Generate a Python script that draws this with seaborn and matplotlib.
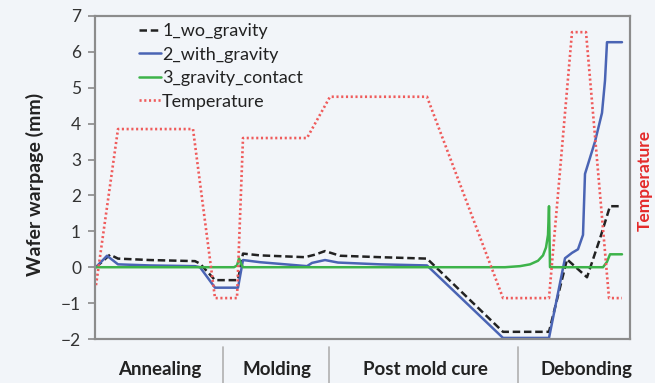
import numpy as np
import pandas as pd
import matplotlib
matplotlib.use("Agg")
import matplotlib.pyplot as plt
import matplotlib.transforms as mtransforms
import seaborn as sns

# Process time (arbitrary units) and warpage values (mm) for each simulation case
t_wo = [1, 5, 15, 23, 55, 100, 105, 120, 143, 148, 165, 210, 220, 230, 245, 285,
        332, 408, 454, 472, 492, 505, 515, 527]
warp_wo = [0, 0.1, 0.35, 0.24, 0.2, 0.17, 0.1, -0.36, -0.36, 0.38, 0.33, 0.28,
           0.35, 0.45, 0.32, 0.28, 0.24, -1.8, -1.8, 0.22, -0.28, 0.8, 1.7, 1.7]

t_with = [1, 12, 23, 55, 100, 105, 120, 143, 148, 165, 212, 217, 230, 243, 285,
          332, 408, 454, 470, 477, 483, 488, 490, 500, 507, 510, 512, 527]
warp_with = [0, 0.32, 0.08, 0.05, 0.03, 0.0, -0.57, -0.57, 0.2, 0.14, 0.03, 0.12,
             0.2, 0.13, 0.08, 0.05, -1.97, -1.97, 0.25, 0.4, 0.5, 0.9, 2.6, 3.5,
             4.3, 5.2, 6.27, 6.27]

t_contact = [1, 139, 142, 144, 146, 148, 410, 425, 435, 443, 448, 451, 453, 454,
             455, 508, 512, 515, 527]
warp_contact = [0, 0, 0.05, 0.25, 0.1, 0, 0, 0.03, 0.08, 0.18, 0.33, 0.55, 0.9,
                1.7, 0, 0, 0.15, 0.36, 0.36]

# Temperature profile, drawn on the secondary axis
t_temp = [1, 23, 98, 120, 142, 148, 212, 235, 332, 408, 454, 477, 491, 514, 527]
temperature = [-0.5, 3.85, 3.85, -0.86, -0.86, 3.6, 3.6, 4.75, 4.75, -0.86, -0.86,
               6.55, 6.55, -0.86, -0.86]

stages = ["Annealing", "Molding", "Post mold cure", "Debonding"]
stage_centers = [65, 182, 330, 492]
stage_bounds = [128, 234, 423]

series_labels = ["1_wo_gravity", "2_with_gravity", "3_gravity_contact", "Temperature"]

BG = "#f2f5f9"
sns.set_theme(style="white")
plt.rcParams["font.family"] = ["Lato", "DejaVu Sans"]

fig = plt.figure(figsize=(6.55, 3.83), dpi=100, facecolor=BG)
ax = fig.add_axes([95 / 655, 1 - 339 / 383, 535 / 655, 323 / 383])
ax.set_facecolor(BG)

sns.lineplot(x=t_wo, y=warp_wo, ax=ax, color="#222222", lw=1.8,
             estimator=None, sort=False, label=series_labels[0])
ax.lines[-1].set_dashes((3.0, 1.5))
sns.lineplot(x=t_with, y=warp_with, ax=ax, color="#4a64b4", lw=1.8,
             estimator=None, sort=False, label=series_labels[1])
sns.lineplot(x=t_contact, y=warp_contact, ax=ax, color="#3db34a", lw=1.8,
             estimator=None, sort=False, label=series_labels[2])

ax2 = ax.twinx()
sns.lineplot(x=t_temp, y=temperature, ax=ax2, color="#ef5b5b", lw=1.9,
             estimator=None, sort=False, label=series_labels[3])
ax2.lines[-1].set_dashes((0.8, 1.0))

for a in (ax, ax2):
    a.set_xlim(0, 535)
    a.set_ylim(-2, 7)

ax.set_yticks(range(-2, 8))
ax.set_xticks([])
ax.tick_params(axis="y", which="both", left=True, length=5, width=1.2,
               color="#8a8a8a", labelsize=12.5, labelcolor="#333333", pad=5)
ax2.set_yticks([])
ax2.set_ylabel("")
ax.set_ylabel("Wafer warpage (mm)", fontsize=14, fontweight="bold", color="#222222")
ax.yaxis.set_label_coords(-0.095, 0.48)

# Secondary axis title, placed at the right edge of the figure
fig.text(645 / 655, 1 - 180 / 383, "Temperature", rotation=90, ha="center",
         va="center", fontsize=12.5, fontweight="bold", color="#e42a2a")

for a in (ax, ax2):
    for s in a.spines.values():
        s.set_color("#8c8c8c")
        s.set_linewidth(1.5)

# Legend combining both axes
h1, l1 = ax.get_legend_handles_labels()
h2, l2 = ax2.get_legend_handles_labels()
if ax2.get_legend():
    ax2.get_legend().remove()
leg = ax.legend(h1 + h2, l1 + l2, loc="upper left", frameon=False,
                bbox_to_anchor=(139 / 655, 1 - 23 / 383), bbox_transform=fig.transFigure,
                borderaxespad=0, borderpad=0, handlelength=1.2, handletextpad=0.08,
                labelspacing=0.42, fontsize=13)
for txt in leg.get_texts():
    txt.set_color("#222222")

# Process stage labels below the axis
trans = mtransforms.blended_transform_factory(ax.transData, ax.transAxes)
for name, c in zip(stages, stage_centers):
    ax.text(c, -0.094, name, transform=trans, ha="center", va="center",
            fontsize=13.5, fontweight="bold", color="#222222", clip_on=False)
for b in stage_bounds:
    ax.plot([b, b], [-0.025, -0.14], transform=trans, color="#b0b0b0", lw=1.2,
            clip_on=False)

fig.savefig("out.png", dpi=100, facecolor=BG)
